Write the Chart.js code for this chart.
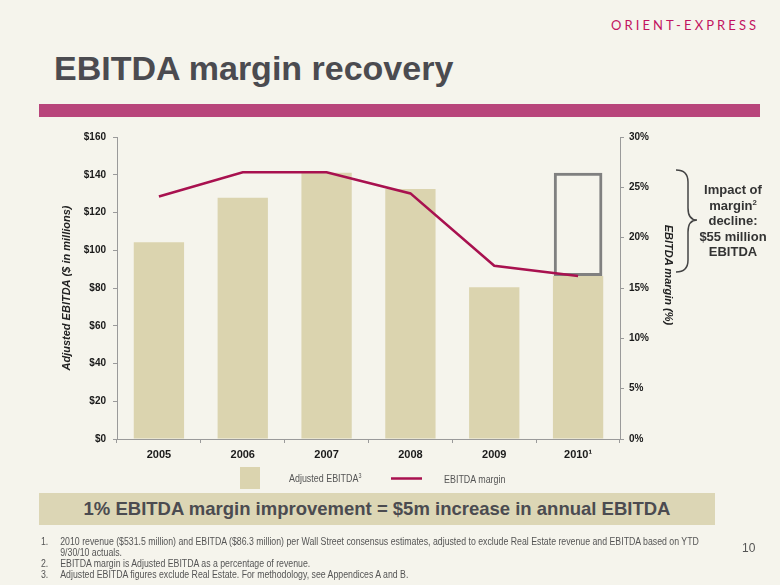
<!DOCTYPE html>
<html>
<head>
<meta charset="utf-8">
<script src="https://cdn.jsdelivr.net/npm/chart.js@4/dist/chart.umd.min.js"></script>
<style>
  html, body { margin:0; padding:0; }
  body { width:780px; height:585px; background:#F5F4EC; position:relative; overflow:hidden; font-family:"Liberation Sans", Arial, sans-serif; }
  .abs { position:absolute; }
  #logo { left:611px; top:17px; font-family:"Lato","Liberation Sans",sans-serif; font-size:13px; line-height:16px; letter-spacing:3.1px; color:#C2135F; white-space:nowrap; }
  #title { left:54px; top:51px; font-size:34px; line-height:34px; font-weight:bold; color:#4B4B50; white-space:nowrap; }
  #rule { left:39px; top:104px; width:721px; height:13px; background:#B8457B; }
  #chartWrap { left:0; top:0; width:780px; height:585px; }
  .narrow { transform:scaleX(0.85); transform-origin:0 0; white-space:nowrap; }
  #banner { left:39px; top:493px; width:676px; height:32px; background:#DCD6B5; display:flex; align-items:center; justify-content:center; font-size:18.5px; font-weight:bold; color:#4B4B50; white-space:nowrap; }
  #notes { left:41px; top:536px; font-size:10px; line-height:11px; color:#555; transform:scaleX(0.875); transform-origin:0 0; }
  #notes div { position:relative; padding-left:22px; white-space:nowrap; }
  #notes span.n { position:absolute; left:0; }
  #page { left:742px; top:541px; font-size:12px; color:#555; }
  #impact { left:693px; top:182px; width:80px; text-align:center; font-size:13px; line-height:15.5px; font-weight:bold; color:#333; white-space:nowrap; }
  #rtitle { left:668px; top:274.5px; transform:translate(-50%,-50%) rotate(90deg); font-size:11px; line-height:13px; font-weight:bold; font-style:italic; color:#222; white-space:nowrap; }
  sup { font-size:60%; line-height:0; vertical-align:super; }
</style>
</head>
<body>
<div id="logo" class="abs">ORIENT-EXPRESS</div>
<div id="title" class="abs">EBITDA margin recovery</div>
<div id="rule" class="abs"></div>

<div id="chartWrap" class="abs"><canvas id="c" width="780" height="585"></canvas></div>

<svg class="abs" style="left:0;top:0" width="780" height="585">
  <path d="M676,170 Q688,170 688,182 L688,208 Q688,220 697,220 Q688,220 688,232 L688,260 Q688,272 676,272" fill="none" stroke="#444" stroke-width="1.5"/>
  <rect x="240" y="467" width="20" height="22" fill="#DBD4AF"/>
  <line x1="391" y1="478.5" x2="422" y2="478.5" stroke="#A8114F" stroke-width="2.5"/>
</svg>
<div class="abs narrow" style="left:289px;top:472px;font-size:10.5px;color:#555;">Adjusted EBITDA<sup>3</sup></div>
<div class="abs narrow" style="left:444px;top:473px;font-size:10.5px;color:#555;">EBITDA margin</div>

<div id="rtitle" class="abs">EBITDA margin (%)</div>
<div id="impact" class="abs">Impact of<br>margin<sup>2</sup><br>decline:<br>$55 million<br>EBITDA</div>

<div id="banner" class="abs">1% EBITDA margin improvement = $5m increase in annual EBITDA</div>

<div id="notes" class="abs">
  <div><span class="n">1.</span>2010 revenue ($531.5 million) and EBITDA ($86.3 million) per Wall Street consensus estimates, adjusted to exclude Real Estate revenue and EBITDA based on YTD<br>9/30/10 actuals.</div>
  <div><span class="n">2.</span>EBITDA margin is Adjusted EBITDA as a percentage of revenue.</div>
  <div><span class="n">3.</span>Adjusted EBITDA figures exclude Real Estate. For methodology, see Appendices A and B.</div>
</div>
<div id="page" class="abs">10</div>

<script>
// ---- data ----
const years = ['2005', '2006', '2007', '2008', '2009', '2010\u00B9'];
const adjustedEbitda = [104.2, 127.8, 141.1, 132.5, 80.4, 86.3];   // $ millions
const ebitdaMargin = [24.1, 26.5, 26.5, 24.4, 17.2, 16.2];          // %
const impactRange = [null, null, null, null, null, [86.3, 141.1]];   // margin-decline box for 2010
const leftTicks = ['$0', '$20', '$40', '$60', '$80', '$100', '$120', '$140', '$160'];
const rightTicks = ['0%', '5%', '10%', '15%', '20%', '25%', '30%'];

const FONT = '"Liberation Sans", Arial, sans-serif';
const axisGray = '#9a9a9a';

new Chart(document.getElementById('c'), {
  data: {
    labels: years,
    datasets: [
      {
        type: 'line', label: 'EBITDA margin', data: ebitdaMargin, yAxisID: 'y1',
        borderColor: '#A8114F', borderWidth: 2.6, pointRadius: 0, tension: 0, order: 0
      },
      {
        type: 'bar', label: 'impact', data: impactRange, yAxisID: 'y',
        backgroundColor: 'rgba(0,0,0,0)', borderColor: '#808080', borderWidth: 3,
        borderSkipped: false, grouped: false, barPercentage: 0.58, categoryPercentage: 1, order: 1
      },
      {
        type: 'bar', label: 'Adjusted EBITDA', data: adjustedEbitda, yAxisID: 'y',
        backgroundColor: '#DBD4AF', borderWidth: 0, grouped: false,
        barPercentage: 0.6, categoryPercentage: 1, order: 2
      }
    ]
  },
  options: {
    responsive: false,
    animation: false,
    layout: { padding: { top: 137, bottom: 116, left: 46, right: 100 } },
    plugins: { legend: { display: false }, tooltip: { enabled: false } },
    scales: {
      x: {
        offset: true,
        afterFit: s => { s.height = 30; },
        grid: { display: true, drawOnChartArea: false, offset: true, tickLength: 4, color: axisGray },
        border: { color: axisGray },
        ticks: { color: '#1a1a1a', font: { family: FONT, size: 11, weight: 'bold' }, padding: 5 }
      },
      y: {
        position: 'left', min: 0, max: 160,
        afterFit: s => { s.width = 71; },
        grid: { drawOnChartArea: false, tickLength: 4, color: axisGray },
        border: { color: axisGray },
        ticks: { stepSize: 20, padding: 7, color: '#1a1a1a', font: { family: FONT, size: 10, weight: 'bold' },
                 callback: (v, i) => leftTicks[i] },
        title: { display: true, text: 'Adjusted EBITDA ($ in millions)', color: '#222',
                 font: { family: FONT, size: 11, weight: 'bold', style: 'italic' }, padding: { top: 14, bottom: 0 } }
      },
      y1: {
        position: 'right', min: 0, max: 30,
        afterFit: s => { s.width = 60; },
        grid: { drawOnChartArea: false, tickLength: 4, color: axisGray },
        border: { color: axisGray },
        ticks: { stepSize: 5, padding: 5, color: '#1a1a1a', font: { family: FONT, size: 10, weight: 'bold' },
                 callback: (v, i) => rightTicks[i] }
      }
    }
  }
});
</script>
</body>
</html>
